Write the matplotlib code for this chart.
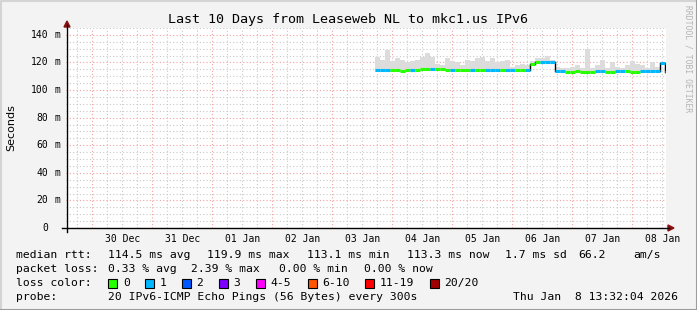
import matplotlib
matplotlib.use('Agg')
import matplotlib.pyplot as plt
import matplotlib.transforms as mtransforms
import pandas as pd
from matplotlib.lines import Line2D
from matplotlib.patches import Rectangle, Polygon

W, H = 697, 310
MONO = 'DejaVu Sans Mono'

# samples every 2 hours starting 03 Jan 17:00
start = '2026-01-03 17:00'
median = [114.3, 114.2, 114.3, 114.2, 114.3, 114.1, 114.4, 114.6, 114.8, 115.0,
          115.1, 115.0, 115.2, 115.0, 114.9, 114.8, 114.6, 114.4, 114.3, 114.5,
          114.3, 114.2, 114.4, 114.3, 114.2, 114.3, 114.4, 114.2, 114.3, 114.2,
          114.3, 118.6, 120.0, 120.3, 120.4, 120.2, 113.6, 113.5, 113.4, 113.4,
          113.5, 113.3, 112.9, 113.0, 113.5, 113.6, 113.3, 113.4, 113.5, 113.6,
          113.5, 113.4, 113.3, 113.5, 113.6, 113.8, 114.0, 119.4, 113.4]
loss = [1, 1, 1, 0, 0, 0, 0, 1, 0, 0,
        0, 1, 0, 0, 0, 1, 0, 0, 0, 1,
        0, 0, 1, 1, 1, 0, 1, 1, 0, 0,
        1, 0, 0, 1, 1, 1, 1, 1, 0, 0,
        0, 0, 0, 0, 1, 1, 0, 0, 1, 1,
        0, 0, 0, 1, 1, 1, 1, 1, 0]
smoke_hi = [124, 122, 129, 121, 123, 122, 120, 121, 122, 124,
            127, 124, 119, 118, 123, 121, 120, 118, 122, 121,
            123, 124, 121, 123, 120, 121, 122, 117, 118, 119,
            118, 121, 123, 123, 125, 122, 117, 116, 116, 117,
            118, 116, 130, 116, 118, 122, 116, 120, 117, 116,
            118, 121, 119, 118, 116, 120, 117, 120, 116]
smoke_lo = [113.2, 113.1, 113.2, 113.1, 113.2, 113.0, 113.3, 113.5, 113.7, 113.9,
            114.0, 113.9, 114.1, 113.9, 113.8, 113.7, 113.5, 113.3, 113.2, 113.4,
            113.2, 113.1, 113.3, 113.2, 113.1, 113.2, 113.3, 113.1, 113.2, 113.1,
            113.2, 117.5, 118.9, 119.2, 119.3, 119.1, 112.5, 112.4, 112.3, 112.3,
            112.4, 112.2, 111.8, 111.9, 112.4, 112.5, 112.2, 112.3, 112.4, 112.5,
            112.4, 112.3, 112.2, 112.4, 112.5, 112.7, 112.9, 118.3, 112.3]

loss_labels = ['0', '1', '2', '3', '4-5', '6-10', '11-19', '20/20']
loss_colors = ['#26ff00', '#00b8ff', '#0059ff', '#7e00ff', '#ff00ff', '#ff5500', '#ff0000', '#a10000']

days = ['30 Dec', '31 Dec', '01 Jan', '02 Jan', '03 Jan', '04 Jan', '05 Jan', '06 Jan', '07 Jan', '08 Jan']
t_end = pd.Timestamp('2026-01-08 13:32:04')
t_begin = t_end - pd.Timedelta(days=10)

times = pd.date_range(start, periods=len(median), freq='2h')
step = pd.Timedelta(hours=2)

fig = plt.figure(figsize=(W / 100, H / 100), dpi=100)
fig.patch.set_facecolor('#f3f3f3')
ax = fig.add_axes([66 / W, 1 - 228 / H, 600 / W, 200 / H])
ax.set_facecolor('white')
ax.set_xlim(t_begin, t_end)
ax.set_ylim(0, 145)
for s in ax.spines.values():
    s.set_visible(False)

# grid
grid_kw = dict(lw=0.8, ls=(0, (1, 2)), zorder=1)
for t in pd.date_range('2025-12-29 18:00', t_end, freq='6h'):
    if t.hour != 0:
        ax.axvline(t, color='#c8c8c8', **grid_kw)
for t in pd.date_range('2025-12-30', t_end, freq='1D'):
    ax.axvline(t, color='#f2a0a0', **grid_kw)
for v in range(5, 150, 5):
    ax.axhline(v, color='#f2a0a0' if v % 20 == 0 else '#c8c8c8', **grid_kw)

# smoke
ax.bar(times, [h - l for h, l in zip(smoke_hi, smoke_lo)], bottom=smoke_lo,
       width=step, align='edge', color='#dcdcdc', lw=0, zorder=2)

# median line coloured by loss
for i, (t, m, l) in enumerate(zip(times, median, loss)):
    ax.plot([t, t + step], [m, m], color=loss_colors[l], lw=2.2,
            solid_capstyle='butt', zorder=4)
    if i > 0 and abs(m - median[i - 1]) > 1:
        ax.plot([t, t], [median[i - 1], m], color='black', lw=1, zorder=3)

# x ticks at noon
noons = pd.date_range('2025-12-30 12:00', periods=len(days), freq='1D')
ax.set_xticks(noons)
ax.set_xticklabels(days, fontsize=7, family=MONO)
ax.tick_params(axis='x', length=0, pad=4.5)
ax.set_yticks([])

# y tick labels
yt = mtransforms.blended_transform_factory(fig.transFigure, ax.transData)
for v in range(0, 160, 20):
    ax.text(48.5 / W, v, str(v), transform=yt, ha='right', va='center',
            fontsize=7, family=MONO, color='black')
    if v:
        ax.text(54.5 / W, v, 'm', transform=yt, ha='left', va='center',
                fontsize=7, family=MONO, color='black')


def fx(x):
    return x / W


def fy(y):
    return 1 - y / H


# axes lines with arrows
fig.add_artist(Line2D([fx(62), fx(669)], [fy(228), fy(228)], color='black', lw=1))
fig.add_artist(Line2D([fx(67), fx(67)], [fy(232), fy(25)], color='black', lw=1))
fig.add_artist(Polygon([[fx(668), fy(225)], [fx(674), fy(228)], [fx(668), fy(231)]],
                       closed=True, color='#8b1010', transform=fig.transFigure))
fig.add_artist(Polygon([[fx(64), fy(27)], [fx(67), fy(21)], [fx(70), fy(27)]],
                       closed=True, color='#8b1010', transform=fig.transFigure))

# title and labels
fig.text(fx(348), fy(19), 'Last 10 Days from Leaseweb NL to mkc1.us IPv6',
         ha='center', va='center', fontsize=9.6, family=MONO)
fig.text(fx(11), fy(128), 'Seconds', rotation=90, ha='center', va='center', fontsize=8)
fig.text(fx(688), fy(5), 'RRDTOOL / TOBI OETIKER', rotation=-90, ha='center', va='top',
         fontsize=5.8, family=MONO, color='#b4b4b4')

# legend rows
rows = [
    (255, [(16, 'median rtt:'), (107.6, '114.5 ms avg'), (207, '119.9 ms max'),
           (306.7, '113.1 ms min'), (406.7, '113.3 ms now'), (505, '1.7 ms sd'),
           (578, '66.2'), (633, 'am/s')]),
    (269, [(16, 'packet loss:'), (107.6, '0.33 % avg'), (191, '2.39 % max'),
           (279, '0.00 % min'), (364, '0.00 % now')]),
    (283, [(16, 'loss color:')]),
    (297, [(16, 'probe:'), (107.6, '20 IPv6-ICMP Echo Pings (56 Bytes) every 300s'),
           (513, 'Thu Jan  8 13:32:04 2026')]),
]
for y, items in rows:
    for x, s in items:
        fig.text(fx(x), fy(y), s, ha='left', va='center', fontsize=8.2, family=MONO)

box_x = [108.4, 145, 182, 219, 256, 307.5, 365, 430]
for x, lab, c in zip(box_x, loss_labels, loss_colors):
    fig.add_artist(Rectangle((fx(x), fy(287.5)), 9 / W, 9 / H, facecolor=c,
                             edgecolor='black', lw=0.8, transform=fig.transFigure))
    fig.text(fx(x + 14.5), fy(283), lab, ha='left', va='center', fontsize=8.2, family=MONO)

# frame
fig.add_artist(Line2D([fx(0.5), fx(0.5), fx(696)], [fy(309), fy(0.5), fy(0.5)],
                      color='#d4d4d4', lw=1.5))
fig.add_artist(Line2D([fx(1), fx(696.5), fx(696.5)], [fy(309.5), fy(309.5), fy(1)],
                      color='#9c9c9c', lw=1.5))

fig.savefig('out.png', dpi=100, facecolor=fig.get_facecolor())
